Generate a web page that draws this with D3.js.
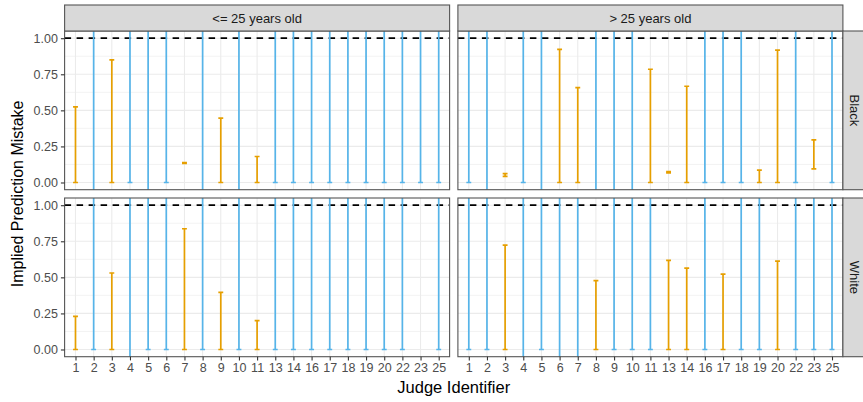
<!DOCTYPE html>
<html>
<head>
<meta charset="utf-8">
<script src="https://cdn.jsdelivr.net/npm/d3@7"></script>
<style>
  body { margin: 0; background: #fff; }
  svg { display: block; font-family: "Liberation Sans", Arial, sans-serif; }
</style>
</head>
<body>
<svg id="chart" width="863" height="402"></svg>
<script>

// DATA

var judges = [1, 2, 3, 4, 5, 6, 7, 8, 9, 10, 11, 13, 14, 16, 17, 18, 19, 20, 22, 23, 25];
var ageGroups = ["<= 25 years old", "> 25 years old"];
var races = ["Black", "White"];
var yTicks = [0, 0.25, 0.5, 0.75, 1];
var yMinor = [0.125, 0.375, 0.625, 0.875];

// bounds above 1 or below 0 are unbounded (clipped by the panel)
var blackYoungLower = [0, -1, 0, 0, -1, 0, 0.133, -1, 0, -1, 0, 0, 0, 0, 0, 0, 0, 0, 0, 0, 0];
var blackYoungUpper = [0.524, 2, 0.85, 2, 2, 2, 0.138, 2, 0.446, 2, 0.18, 2, 2, 2, 2, 2, 2, 2, 2, 2, 2];

var blackOldLower = [0, -1, 0.042, 0, -1, 0, 0, -1, -1, -1, 0, 0.066, 0, 0, 0, 0, 0, 0, 0, 0.095, 0];
var blackOldUpper = [2, 2, 0.062, 2, 2, 0.922, 0.658, 2, 2, 2, 0.785, 0.075, 0.667, 2, 2, 2, 0.085, 0.917, 2, 0.296, 2];

var whiteYoungLower = [0, 0, 0, -1, 0, 0, 0, 0, 0, 0, 0, 0, 0, 0, 0, 0, 0, 0, 0, null, 0];
var whiteYoungUpper = [0.23, 2, 0.53, 2, 2, 2, 0.837, 2, 0.396, 2, 0.2, 2, 2, 2, 2, 2, 2, 2, 2, null, 2];

var whiteOldLower = [0, 0, 0, -1, 0, -1, -1, 0, 0, 0, 0, 0, 0, 0, 0, 0, 0, 0, 0, 0, 0];
var whiteOldUpper = [2, 2, 0.723, 2, 2, 2, 2, 0.477, 2, 2, 2, 0.618, 0.564, 2, 0.523, 2, 2, 0.613, 2, 2, 2];

var panelData = [
    [[blackYoungLower, blackYoungUpper], [blackOldLower, blackOldUpper]],
    [[whiteYoungLower, whiteYoungUpper], [whiteOldLower, whiteOldUpper]]
];

var bounded = "#E69F00",
    unbounded = "#56B4E9";


// LAYOUT

var svg = d3.select("svg");

var marginLeft = 64.6, panelTop = 31,
    panelW = 385, panelH = 158.7,
    gapX = 8.3, gapY = 8.3,
    stripH = 26;

var x = d3.scalePoint()
    .domain(judges)
    .range([0, panelW])
    .padding(0.6);

var y = d3.scaleLinear()
    .domain([-0.05, 1.05])
    .range([panelH, 0]);

var capW = x.step() * 0.27;

var defs = svg.append("defs");
defs.append("clipPath").attr("id", "panelclip")
    .append("rect").attr("width", panelW).attr("height", panelH);

races.forEach(function (race, r) {
    ageGroups.forEach(function (age, c) {
        var px = marginLeft + c * (panelW + gapX),
            py = panelTop + r * (panelH + gapY);

        var g = svg.append("g").attr("transform", "translate(" + px + "," + py + ")");

        // minor grid
        g.selectAll(".minor")
            .data(yMinor)
            .enter().append("line")
            .attr("x1", 0).attr("x2", panelW)
            .attr("y1", function (d) { return y(d); })
            .attr("y2", function (d) { return y(d); })
            .attr("stroke", "#EBEBEB").attr("stroke-width", 0.6);

        // major grid
        g.selectAll(".hmajor")
            .data(yTicks)
            .enter().append("line")
            .attr("x1", 0).attr("x2", panelW)
            .attr("y1", function (d) { return y(d); })
            .attr("y2", function (d) { return y(d); })
            .attr("stroke", "#EBEBEB").attr("stroke-width", 1.1);

        g.selectAll(".vmajor")
            .data(judges)
            .enter().append("line")
            .attr("x1", function (d) { return x(d); })
            .attr("x2", function (d) { return x(d); })
            .attr("y1", 0).attr("y2", panelH)
            .attr("stroke", "#EBEBEB").attr("stroke-width", 1.1);

        // reference line at 1
        g.append("line")
            .attr("x1", 0).attr("x2", panelW)
            .attr("y1", y(1)).attr("y2", y(1))
            .attr("stroke", "#000")
            .attr("stroke-width", 1.7)
            .attr("stroke-dasharray", "6.5,5.5");

        // error bars
        var lower = panelData[r][c][0],
            upper = panelData[r][c][1];
        var bars = judges.map(function (j, i) {
            return { judge: j, lo: lower[i], hi: upper[i] };
        }).filter(function (d) { return d.lo !== null; });

        var eb = g.append("g").attr("clip-path", "url(#panelclip)")
            .selectAll(".eb")
            .data(bars)
            .enter().append("g")
            .attr("stroke", function (d) { return d.hi > 1 ? unbounded : bounded; })
            .attr("stroke-width", 1.7)
            .attr("fill", "none");

        eb.append("line")
            .attr("x1", function (d) { return x(d.judge); })
            .attr("x2", function (d) { return x(d.judge); })
            .attr("y1", function (d) { return y(d.lo); })
            .attr("y2", function (d) { return y(d.hi); });
        eb.append("line")
            .attr("x1", function (d) { return x(d.judge) - capW / 2; })
            .attr("x2", function (d) { return x(d.judge) + capW / 2; })
            .attr("y1", function (d) { return y(d.lo); })
            .attr("y2", function (d) { return y(d.lo); });
        eb.append("line")
            .attr("x1", function (d) { return x(d.judge) - capW / 2; })
            .attr("x2", function (d) { return x(d.judge) + capW / 2; })
            .attr("y1", function (d) { return y(d.hi); })
            .attr("y2", function (d) { return y(d.hi); });

        // panel border
        g.append("rect")
            .attr("width", panelW).attr("height", panelH)
            .attr("fill", "none")
            .attr("stroke", "#555").attr("stroke-width", 1.1);

        // top strips
        if (r === 0) {
            var s = svg.append("g").attr("transform", "translate(" + px + "," + (panelTop - stripH) + ")");
            s.append("rect")
                .attr("width", panelW).attr("height", stripH)
                .attr("fill", "#D9D9D9")
                .attr("stroke", "#555").attr("stroke-width", 1.1);
            s.append("text")
                .attr("x", panelW / 2).attr("y", stripH / 2 + 4.5)
                .attr("text-anchor", "middle")
                .attr("font-size", 13)
                .attr("fill", "#1A1A1A")
                .text(age);
        }

        // right strips
        if (c === 1) {
            var rs = svg.append("g").attr("transform", "translate(" + (px + panelW) + "," + py + ")");
            rs.append("rect")
                .attr("width", stripH).attr("height", panelH)
                .attr("fill", "#D9D9D9")
                .attr("stroke", "#555").attr("stroke-width", 1.1);
            rs.append("text")
                .attr("transform", "translate(" + (stripH / 2 - 5.5) + "," + (panelH / 2) + ") rotate(90)")
                .attr("text-anchor", "middle")
                .attr("font-size", 13)
                .attr("fill", "#1A1A1A")
                .text(race);
        }

        // y axis
        if (c === 0) {
            var yAxis = d3.axisLeft(y)
                .tickValues(yTicks)
                .tickFormat(d3.format(".2f"))
                .tickSize(3.7)
                .tickPadding(3);
            var gy = g.append("g").call(yAxis);
            gy.select(".domain").remove();
            gy.selectAll(".tick line").attr("stroke", "#333").attr("stroke-width", 1.1);
            gy.selectAll(".tick text")
                .attr("font-size", 12.5)
                .attr("fill", "#4D4D4D")
                .style("font-family", "Liberation Sans, Arial, sans-serif");
        }

        // x axis
        if (r === 1) {
            var xAxis = d3.axisBottom(x)
                .tickSize(3.7)
                .tickPadding(3);
            var gx = g.append("g")
                .attr("transform", "translate(0," + panelH + ")")
                .call(xAxis);
            gx.select(".domain").remove();
            gx.selectAll(".tick line").attr("stroke", "#333").attr("stroke-width", 1.1);
            gx.selectAll(".tick text")
                .attr("font-size", 12.5)
                .attr("fill", "#4D4D4D")
                .style("font-family", "Liberation Sans, Arial, sans-serif");
        }
    });
});

// axis titles
svg.append("text")
    .attr("x", marginLeft + panelW + gapX / 2)
    .attr("y", 393)
    .attr("text-anchor", "middle")
    .attr("font-size", 16.5)
    .attr("fill", "#000")
    .text("Judge Identifier");

svg.append("text")
    .attr("transform", "translate(23," + (panelTop + panelH + gapY / 2) + ") rotate(-90)")
    .attr("text-anchor", "middle")
    .attr("font-size", 16)
    .attr("fill", "#000")
    .text("Implied Prediction Mistake");

</script>
</body>
</html>
